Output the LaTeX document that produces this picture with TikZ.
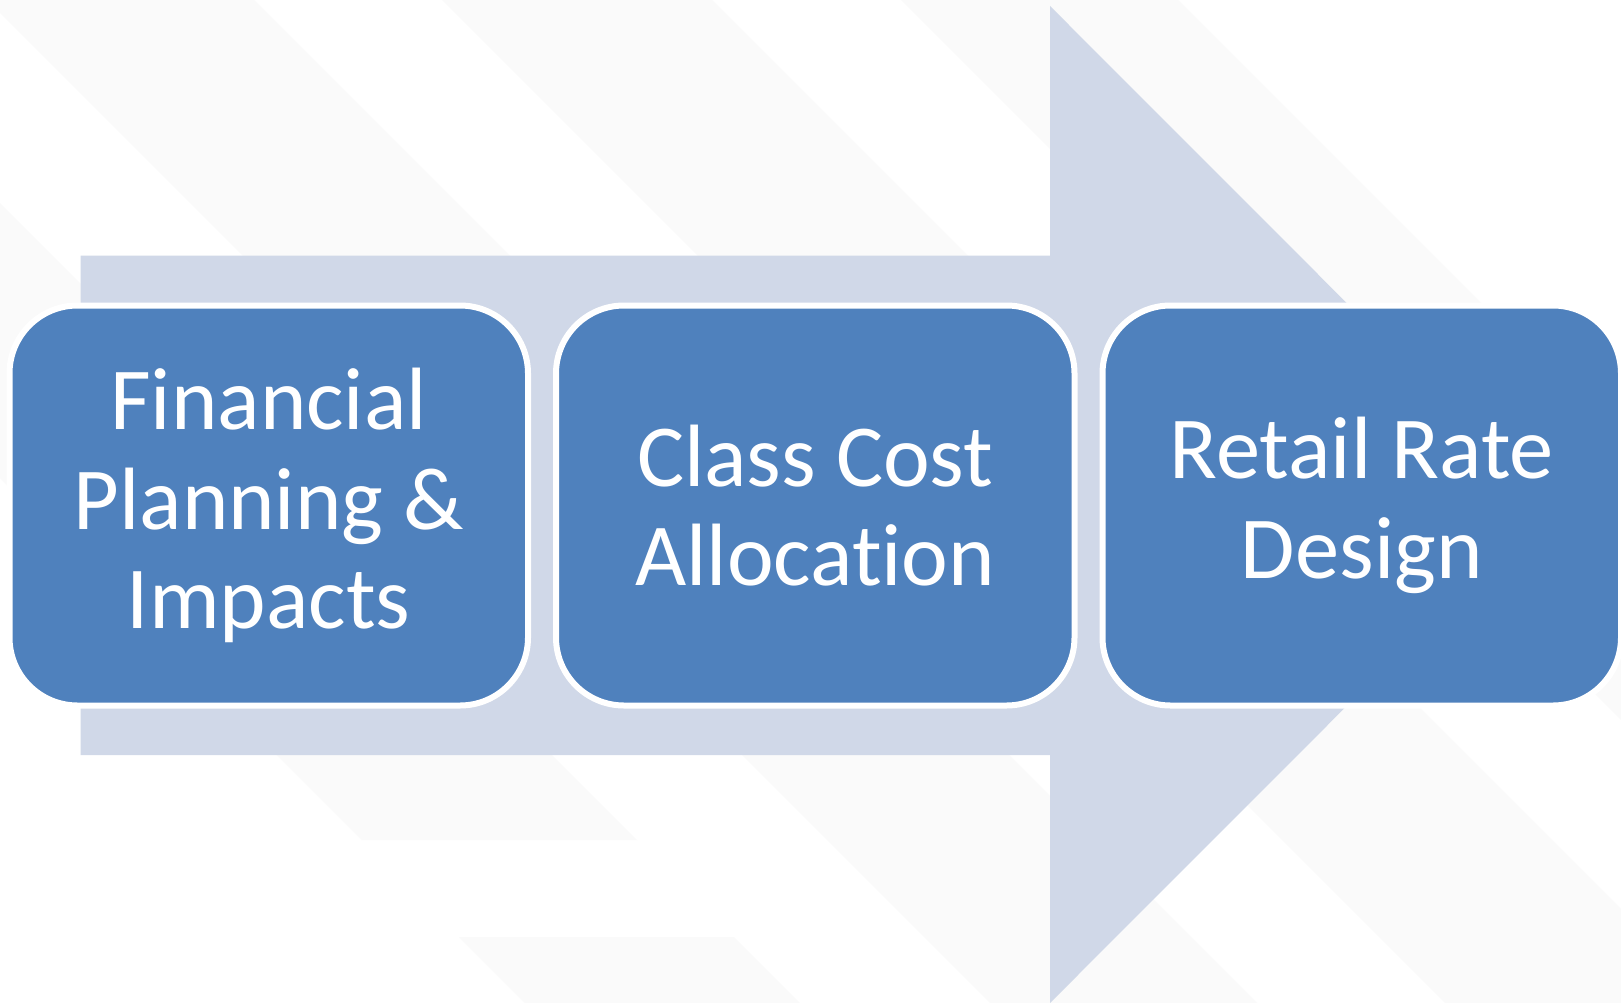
\documentclass[tikz,border=0pt]{standalone}
\usepackage{fontspec}
\setmainfont{Carlito}[Ligatures=NoCommon]
\definecolor{boxblue}{HTML}{4F81BD}
\definecolor{arrowfill}{HTML}{D0D8E8}
\definecolor{stripecol}{HTML}{FAFAFA}
\begin{document}
\begin{tikzpicture}[x=1pt,y=-1pt,
  stepbox/.style={draw=white, line width=6pt, fill=boxblue, rounded corners=68pt,
    minimum width=518.5pt, minimum height=400pt, text=white, align=center,
    font=\fontsize{88.5}{99.5}\selectfont, inner sep=0pt},
  stripefill/.style={fill=stripecol, draw=none},
  bigarrow/.style={fill=arrowfill, draw=none}]
\useasboundingbox (0,0) rectangle (1621,1003);
\fill[white] (0,0) rectangle (1621,1003);
\begin{scope}
\clip (0,0) rectangle (1621,1003);
% faint diagonal background stripes
\fill[stripefill] (-478,0) -- (-203,0) -- (637,840) -- (362,840) -- cycle;
\fill[stripefill] (459,937) -- (734,937) -- (800,1003) -- (525,1003) -- cycle;
\fill[stripefill] (-13,0) -- (254,0) -- (1257,1003) -- (990,1003) -- cycle;
\fill[stripefill] (442,0) -- (712,0) -- (1715,1003) -- (1445,1003) -- cycle;
\fill[stripefill] (901,0) -- (1178,0) -- (2181,1003) -- (1904,1003) -- cycle;
% big background arrow
\fill[bigarrow] (80.5,255.5) -- (1050,255.5) -- (1050,6) -- (1548,504.5)
  -- (1050,1003) -- (1050,755) -- (80.5,755) -- cycle;
% boxes
\node[stepbox] (fin) at (268.75,505.5) {Financial\\Planning \&\\Impacts};
\node[stepbox] (ccs) at (815.25,505.5) {Class Cost\\Allocation};
\node[stepbox] (rrd) at (1361.75,505.5) {Retail Rate\\Design};
\end{scope}
\end{tikzpicture}
\end{document}
